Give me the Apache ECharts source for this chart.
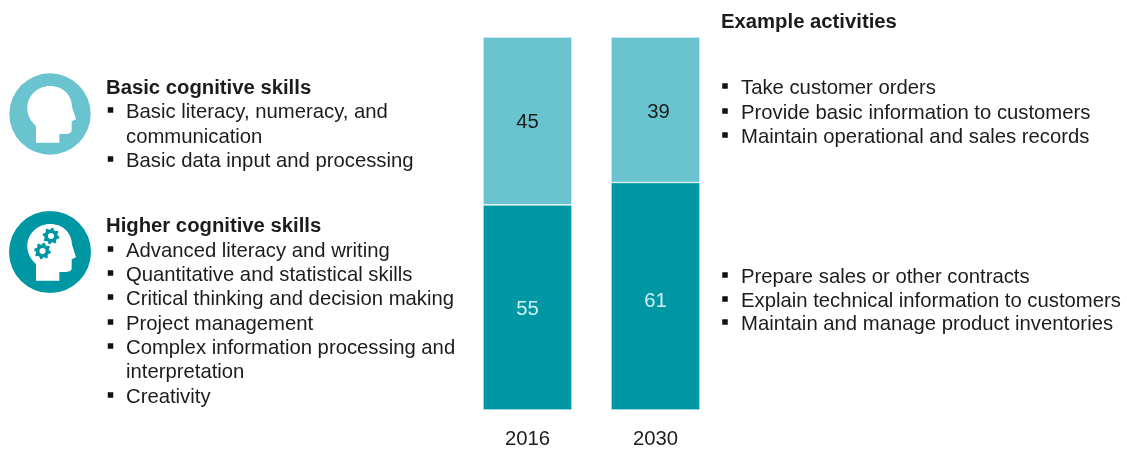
<!DOCTYPE html>
<html>
<head>
<meta charset="utf-8">
<script src="https://cdn.jsdelivr.net/npm/echarts@6/dist/echarts.min.js"></script>
<style>html,body{margin:0;padding:0;background:#fff}#chart{width:1127px;height:449px}</style>
</head>
<body>
<div id="chart"></div>
<script>
// Share of work time by skill type, with the skills and activities each covers
const years = ['2016', '2030'];
const basicValues = [45, 39];
const higherValues = [55, 61];

const basicTitle = 'Basic cognitive skills';
const basicItems = [
  ['Basic literacy, numeracy, and', 'communication'],
  ['Basic data input and processing']
];
const higherTitle = 'Higher cognitive skills';
const higherItems = [
  ['Advanced literacy and writing'],
  ['Quantitative and statistical skills'],
  ['Critical thinking and decision making'],
  ['Project management'],
  ['Complex information processing and', 'interpretation'],
  ['Creativity']
];
const activitiesTitle = 'Example activities';
const basicActivities = ['Take customer orders', 'Provide basic information to customers', 'Maintain operational and sales records'];
const higherActivities = ['Prepare sales or other contracts', 'Explain technical information to customers', 'Maintain and manage product inventories'];

const LIGHT = '#69C4CF';
const DARK = '#0097A5';
const INK = '#1c1c1c';
const FONT = '"Liberation Sans", Arial, sans-serif';
const SIZE = 20.3;

const graphics = [];

function addText(text, x, y, bold) {
  graphics.push({
    type: 'text', x, y,
    style: { text, font: (bold ? 'bold ' : '') + SIZE + 'px ' + FONT, fill: INK, textVerticalAlign: 'middle', textAlign: 'left' }
  });
}

function addBullet(x, y) {
  graphics.push({ type: 'rect', shape: { x: x - 2.75, y: y - 4.75, width: 5.5, height: 5.5 }, style: { fill: '#111' } });
}

// A bulleted block: each entry may wrap onto extra lines
function addList(entries, bulletX, textX, ys) {
  let row = 0;
  entries.forEach(lines => {
    addBullet(bulletX, ys[row]);
    lines.forEach(line => { addText(line, textX, ys[row]); row++; });
  });
}

// Head silhouette, drawn in a 3x unit box centred on the icon's circle
const HEAD = 'M-42 86 L-42 36 C-60 20 -68 3 -68 -17 C-68 -57 -35 -84 0 -84 C40 -84 65 -57 66 -22 L78 16 L65 22 L65 48 C65 58 55 60 45 60 L28 60 L28 86 Z';
echarts.graphic.registerShape('headShape', echarts.graphic.extendPath(HEAD, {}));

function addIcon(cx, cy, r, color) {
  graphics.push({ type: 'circle', shape: { cx, cy, r }, style: { fill: color } });
  graphics.push({ type: 'headShape', x: cx, y: cy, scaleX: 1 / 3, scaleY: 1 / 3, style: { fill: '#fff' } });
}

// Toothed wheel made of a polygon with a white centre
function addGear(cx, cy, color) {
  const teeth = 8, outer = 8.4, inner = 6.6;
  const pts = [];
  for (let i = 0; i < teeth * 4; i++) {
    const a = (i + 0.5) / (teeth * 4) * Math.PI * 2;
    const rad = (i % 4 < 2) ? outer : inner;
    pts.push([cx + rad * Math.cos(a), cy + rad * Math.sin(a)]);
  }
  graphics.push({ type: 'polygon', shape: { points: pts }, style: { fill: color } });
  graphics.push({ type: 'circle', shape: { cx, cy, r: 3 }, style: { fill: '#fff' } });
}

addIcon(50, 114, 40.7, LIGHT);
addIcon(50, 252, 41, DARK);
addGear(51, 236, DARK);
addGear(42.5, 251, DARK);

addText(basicTitle, 106, 88, true);
addList(basicItems, 110.5, 126, [112, 137, 161]);
addText(higherTitle, 106, 226, true);
addList(higherItems, 110.5, 126, [251, 275, 299, 324, 348, 372, 397]);
addText(activitiesTitle, 721, 22, true);
addList(basicActivities.map(t => [t]), 725, 741, [88, 113, 137]);
addList(higherActivities.map(t => [t]), 725, 741, [277, 301, 324]);

const chart = echarts.init(document.getElementById('chart'), null, { renderer: 'canvas' });

function valueLabel(color) {
  return { show: true, position: 'inside', color, fontFamily: FONT, fontSize: SIZE };
}

chart.setOption({
  animation: false,
  grid: { left: 463.5, top: 37, width: 256, height: 373 },
  xAxis: {
    type: 'category', data: years,
    axisLine: { show: false }, axisTick: { show: false },
    axisLabel: { color: INK, fontFamily: FONT, fontSize: SIZE, margin: 19 }
  },
  yAxis: { type: 'value', min: 0, max: 100, show: false },
  series: [
    {
      name: 'Higher cognitive skills', type: 'bar', stack: 'share', barWidth: 89,
      data: higherValues.map((value, i) => ({
        value, label: { offset: i === 1 ? [0, 5] : [0, 2] }
      })),
      itemStyle: { color: DARK, borderColor: '#fff', borderWidth: 0.6 },
      label: valueLabel('#cfeef1')
    },
    {
      name: 'Basic cognitive skills', type: 'bar', stack: 'share', barWidth: 89,
      data: basicValues.map((value, i) => ({
        value, label: { offset: i === 1 ? [3, 3] : [0, 1] }
      })),
      itemStyle: { color: LIGHT, borderColor: '#fff', borderWidth: 0.6 },
      label: valueLabel('#1c1c1c')
    }
  ],
  graphic: { elements: graphics }
});
</script>
</body>
</html>
